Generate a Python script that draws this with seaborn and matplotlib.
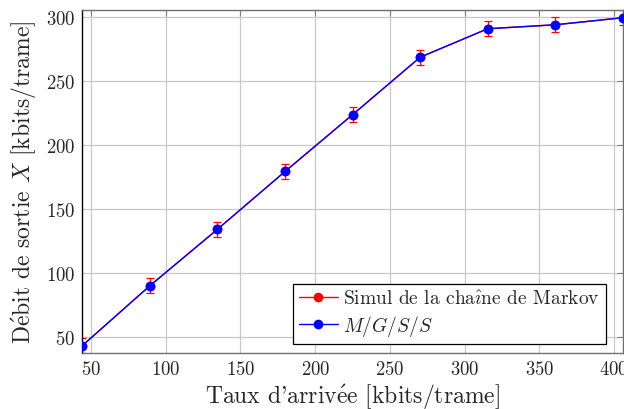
import matplotlib
matplotlib.use("Agg")
import matplotlib.pyplot as plt
import numpy as np
import pandas as pd
import seaborn as sns

# arrival rate (kbits/trame)
taux = [44.2, 89.4, 134.6, 179.8, 225.0, 270.2, 315.4, 360.6, 405.8]
# simulated Markov chain throughput and its confidence interval
debit_simul = [43.5, 90.3, 134.4, 179.6, 224.0, 268.9, 291.2, 294.3, 299.8]
erreur_simul = [6.0, 6.0, 6.0, 6.0, 6.0, 6.0, 6.0, 6.0, 6.0]
# M/G/S/S model
debit_mgss = [43.5, 90.3, 134.4, 179.6, 224.0, 268.9, 291.2, 294.3, 299.8]

sns.set_style("white")
plt.rcParams["font.family"] = ["cmr10", "DejaVu Serif"]
plt.rcParams["mathtext.fontset"] = "cm"
plt.rcParams["axes.formatter.use_mathtext"] = True

df = pd.DataFrame({
    "taux": taux * 2,
    "debit": debit_simul + debit_mgss,
    "serie": ["Simul de la chaîne de Markov"] * len(taux) + [r"$M/G/S/S$"] * len(taux),
})

fig = plt.figure(figsize=(6.24, 4.10), dpi=100)
ax = fig.add_axes([0.132, 0.136, 0.866, 0.837])

ax.errorbar(taux, debit_simul, yerr=erreur_simul, fmt="none", ecolor="red",
            elinewidth=0.9, capsize=3, capthick=0.9, zorder=2)
sns.lineplot(data=df, x="taux", y="debit", hue="serie",
             palette=["red", "blue"], marker="o", markersize=7,
             markeredgewidth=0, linewidth=1.0, ax=ax, zorder=3)

lo = min(d - e for d, e in zip(debit_simul, erreur_simul))
hi = max(d + e for d, e in zip(debit_simul, erreur_simul))
ax.set_xlim(min(taux), max(taux))
ax.set_ylim(lo, hi)
ax.set_xticks(np.arange(50, 401, 50))
ax.set_yticks(np.arange(50, 301, 50))
ax.grid(True, color="#c8c8c8", linewidth=0.9)
ax.set_axisbelow(True)
ax.tick_params(direction="in", length=4, width=0.8, color="#808080",
               top=True, right=True, labelsize=13.5, pad=5)
for side in ["top", "right", "bottom"]:
    ax.spines[side].set_color("#707070")
ax.spines["left"].set_color("black")
for s in ax.spines.values():
    s.set_linewidth(1.0)
    s.set_clip_on(False)

ax.set_xlabel(r"Taux d'arriv$\mathrm{\acute{e}}$e [kbits/trame]", fontsize=17, labelpad=2)
ax.set_ylabel(r"D$\mathrm{\acute{e}}$bit de sortie $X$ [kbits/trame]", fontsize=17, labelpad=6)

leg = ax.legend(loc="lower right", bbox_to_anchor=(0.969, 0.027), fontsize=14,
                frameon=True, fancybox=False, edgecolor="black", framealpha=1,
                handlelength=2.0, handletextpad=0.3, borderpad=0.3,
                labelspacing=0.25, borderaxespad=0)
leg.get_frame().set_linewidth(0.9)
leg.texts[0].set_text(r"Simul de la cha$\mathrm{\hat{\imath}}$ne de Markov")

fig.savefig("out.png", dpi=100)
